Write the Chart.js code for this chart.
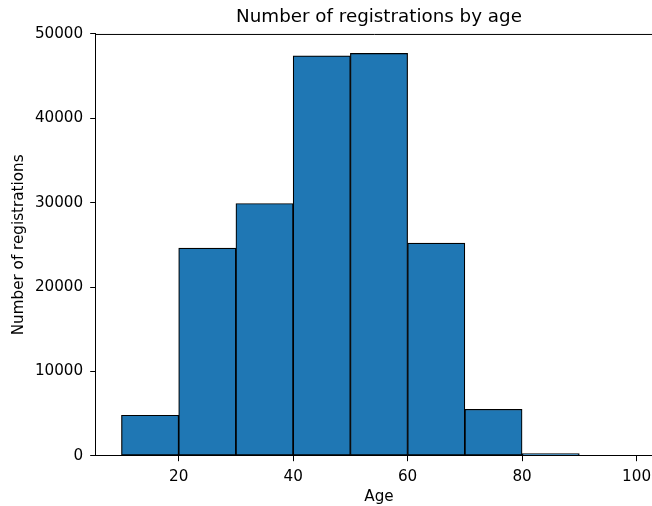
<!DOCTYPE html>
<html>
<head>
<meta charset="utf-8">
<script src="https://cdn.jsdelivr.net/npm/chart.js@4.4.1/dist/chart.umd.min.js"></script>
<style>
  html, body { margin: 0; padding: 0; background: #fff; overflow: hidden; }
  canvas { display: block; }
</style>
</head>
<body>
<canvas id="c" width="652" height="506"></canvas>
<script>
// Age histogram: ten-year bins and registrations counted in each
const binStarts = [10, 20, 30, 40, 50, 60, 70, 80, 90];
const binWidth = 10;
const registrations = [4800, 24600, 29900, 47400, 47700, 25200, 5500, 250, 0];
const xTickValues = [20, 40, 60, 80, 100];
const yTickValues = [0, 10000, 20000, 30000, 40000, 50000];

const FONT = "'DejaVu Sans', sans-serif";
const PLOT_WIDTH = 566.6; // plot area runs slightly past the canvas edge
Chart.defaults.color = '#000';
Chart.defaults.font.family = FONT;

// widen the plot area (and the x axis / title above it) past the right edge
const widenPlot = {
  id: 'widenPlot',
  afterLayout(chart) {
    const a = chart.chartArea;
    const right = a.left + PLOT_WIDTH;
    const x = chart.scales.x;
    x.right = right;
    x.width = right - x.left;
    x.configure();
    a.right = right;
    a.width = right - a.left;
    const t = chart.titleBlock;
    if (t) { t.left = a.left; t.right = right; t.width = right - a.left; }
  }
};

// frame line along the top of the plot area
const frame = {
  id: 'frame',
  afterDraw(chart) {
    const { ctx, chartArea: a } = chart;
    ctx.save();
    ctx.strokeStyle = '#000';
    ctx.lineWidth = 1;
    ctx.beginPath();
    ctx.moveTo(a.left, a.top + 0.5);
    ctx.lineTo(a.right, a.top + 0.5);
    ctx.stroke();
    ctx.restore();
  }
};

new Chart(document.getElementById('c'), {
  type: 'bar',
  data: {
    datasets: [{
      data: binStarts.map((s, i) => ({ x: s + binWidth / 2, y: registrations[i] })),
      backgroundColor: '#1f77b4',
      borderColor: '#000',
      borderWidth: 1.2,
      borderSkipped: false,
      barPercentage: 1,
      categoryPercentage: 1
    }]
  },
  plugins: [widenPlot, frame],
  options: {
    responsive: false,
    animation: false,
    devicePixelRatio: 1,
    layout: { padding: 0 },
    plugins: {
      legend: { display: false },
      tooltip: { enabled: false },
      title: {
        display: true,
        fullSize: false,
        text: 'Number of registrations by age',
        color: '#000',
        font: { family: FONT, size: 18.3, weight: 'normal' },
        padding: { top: 5.8, bottom: 6.2 }
      }
    },
    scales: {
      x: {
        type: 'linear',
        min: 5.5,
        max: 104.5,
        offset: false,
        afterBuildTicks: s => { s.ticks = xTickValues.map(v => ({ value: v })); },
        afterFit: s => { s.height = 50.3; },
        grid: { display: true, drawOnChartArea: false, drawTicks: true, offset: false, tickLength: 5.5, tickColor: '#000', tickWidth: 1 },
        border: { display: true, color: '#000', width: 1 },
        ticks: { font: { family: FONT, size: 15.2 }, color: '#000', padding: 6.5, maxRotation: 0, autoSkip: false, callback: v => String(v) },
        title: { display: true, text: 'Age', color: '#000', font: { family: FONT, size: 15.2 }, padding: { top: 0, bottom: 0 } }
      },
      y: {
        type: 'linear',
        position: 'left',
        min: 0,
        max: 50000,
        afterBuildTicks: s => { s.ticks = yTickValues.map(v => ({ value: v })); },
        afterFit: s => { s.width = 95.7; },
        grid: { display: true, drawOnChartArea: false, drawTicks: true, tickLength: 5.5, tickColor: '#000', tickWidth: 1 },
        border: { display: true, color: '#000', width: 1 },
        ticks: { font: { family: FONT, size: 15.2 }, color: '#000', padding: 7, callback: v => String(v) },
        title: { display: true, text: 'Number of registrations', color: '#000', font: { family: FONT, size: 15.2 }, padding: { top: 9.9, bottom: 0 } }
      }
    }
  }
});
</script>
</body>
</html>
